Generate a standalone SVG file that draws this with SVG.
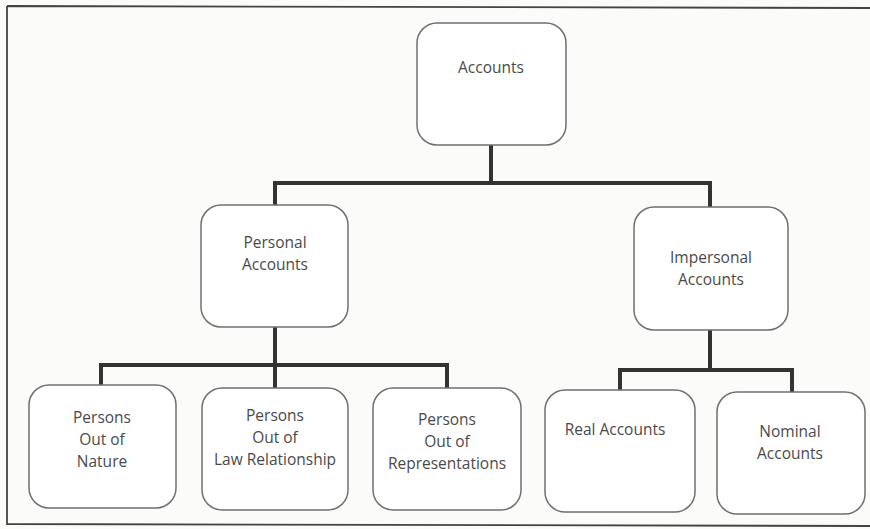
<svg xmlns="http://www.w3.org/2000/svg" width="870" height="529" viewBox="0 0 870 529">
<style>
.box{fill:#ffffff;stroke:#707070;stroke-width:1.5}
.lbl{font-family:"Open Sans","Noto Sans","DejaVu Sans",sans-serif;font-size:15.5px;fill:#4a4a4a;text-anchor:middle}
.con{fill:none;stroke:#333333;stroke-width:4;stroke-linejoin:miter;stroke-linecap:square}
</style>
<rect x="0" y="0" width="870" height="529" fill="#fbfbf9"/>
<path d="M7,6 L870,8 M7,6 L7,524 L870,526" fill="none" stroke="#444" stroke-width="1.8"/>
<g id="connectors">
<path class="con" d="M491,147 V183 M275,183 H710 M275,183 V204 M710,183 V206"/>
<path class="con" d="M275,328 V365 M101,365 H447 M101,365 V384 M275,365 V387 M447,365 V387"/>
<path class="con" d="M710,331 V370 M620,370 H792 M620,370 V389 M792,370 V391"/>
</g>
<g id="accounts">
<rect class="box" x="417" y="23" width="149" height="122" rx="20"/>
<text class="lbl" x="491" y="73">Accounts</text>
</g>
<g id="personal">
<rect class="box" x="201" y="205" width="147" height="122" rx="20"/>
<text class="lbl" x="275" y="248">Personal</text>
<text class="lbl" x="275" y="270">Accounts</text>
</g>
<g id="impersonal">
<rect class="box" x="634" y="207" width="154" height="123" rx="20"/>
<text class="lbl" x="711" y="263">Impersonal</text>
<text class="lbl" x="711" y="285">Accounts</text>
</g>
<g id="nature">
<rect class="box" x="29" y="385" width="147" height="123" rx="20"/>
<text class="lbl" x="102" y="423">Persons</text>
<text class="lbl" x="102" y="445">Out  of</text>
<text class="lbl" x="102" y="467">Nature</text>
</g>
<g id="law">
<rect class="box" x="202" y="388" width="146" height="122" rx="20"/>
<text class="lbl" x="275" y="421">Persons</text>
<text class="lbl" x="275" y="443">Out of</text>
<text class="lbl" x="275" y="465">Law Relationship</text>
</g>
<g id="representations">
<rect class="box" x="373" y="388" width="148" height="122" rx="20"/>
<text class="lbl" x="447" y="425">Persons</text>
<text class="lbl" x="447" y="447">Out of</text>
<text class="lbl" x="447" y="469">Representations</text>
</g>
<g id="real">
<rect class="box" x="545" y="390" width="150" height="122" rx="20"/>
<text class="lbl" x="615" y="435">Real Accounts</text>
</g>
<g id="nominal">
<rect class="box" x="717" y="392" width="148" height="122" rx="20"/>
<text class="lbl" x="790" y="437">Nominal</text>
<text class="lbl" x="790" y="459">Accounts</text>
</g>
</svg>
